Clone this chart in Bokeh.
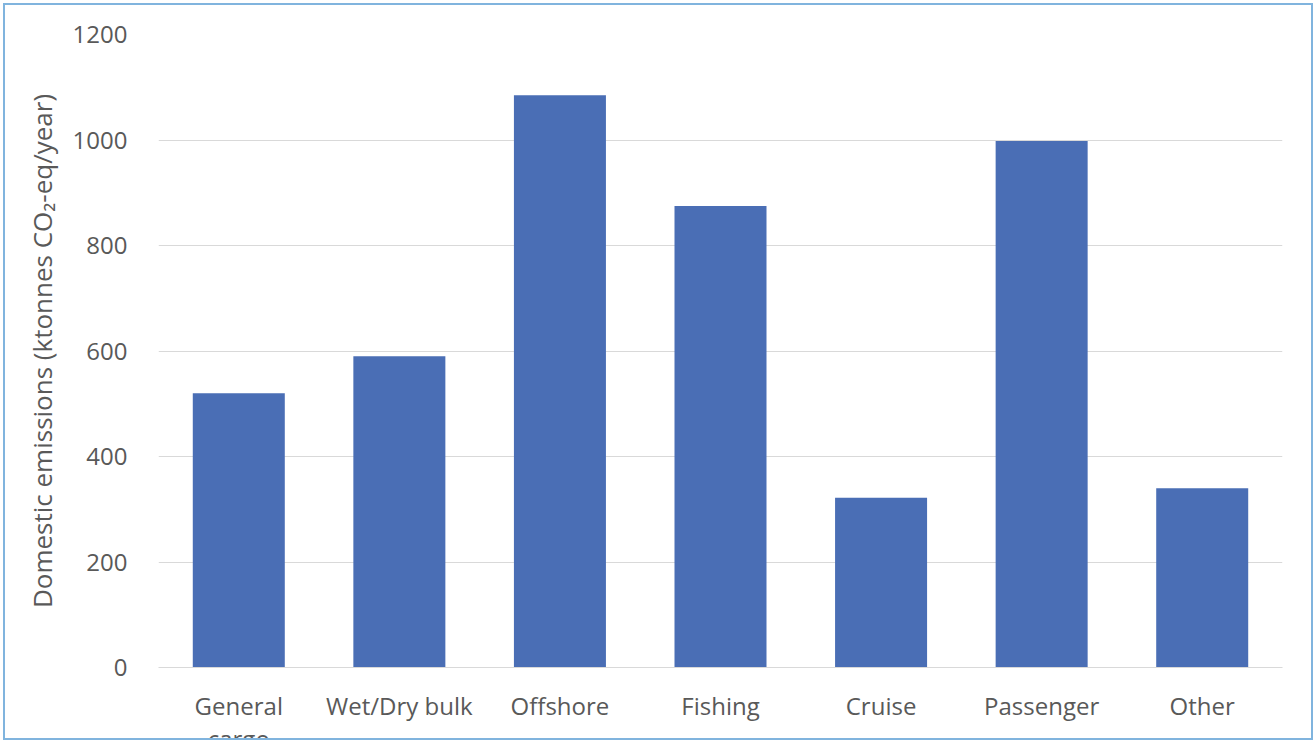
from bokeh.plotting import figure
from bokeh.layouts import column
from bokeh.models import FactorRange, Range1d, FixedTicker, ColumnDataSource, CustomJSTickFormatter
from bokeh.embed import file_html
from bokeh.resources import INLINE

categories = ["General cargo", "Wet/Dry bulk", "Offshore", "Fishing", "Cruise", "Passenger", "Other"]
emissions = [520, 590, 1085, 875, 322, 998, 340]
y_ticks = [0, 200, 400, 600, 800, 1000, 1200]

# the first category label wraps onto a second line in the reference
wrapped = {"General cargo": "General\ncargo"}

src = ColumnDataSource(dict(cat=categories, val=emissions))

p = figure(
    x_range=FactorRange(*categories),
    y_range=Range1d(0, 1200),
    width=1306, height=752,
    output_backend="svg", toolbar_location=None,
    min_border_left=153, min_border_right=29, min_border_top=29, min_border_bottom=71,
    styles={"flex-shrink": "0", "min-height": "752px", "min-width": "1306px"},
)
p.vbar(x="cat", top="val", width=0.573, source=src, color="#4A6EB5", line_color=None)

p.x_range.range_padding = 0
p.outline_line_color = None
p.background_fill_color = "white"
p.border_fill_color = "white"

p.yaxis.ticker = FixedTicker(ticks=y_ticks)
p.ygrid.grid_line_color = "#d9d9d9"
p.ygrid.grid_line_width = 1
p.xgrid.grid_line_color = None

for ax in (p.xaxis[0], p.yaxis[0]):
    ax.major_label_text_font = "Open Sans"
    ax.major_label_text_font_size = "24px"
    ax.major_label_text_color = "#595959"
    ax.major_tick_line_color = None
    ax.minor_tick_line_color = None

p.yaxis.axis_line_color = None
p.xaxis.axis_line_color = "#d9d9d9"
p.yaxis.major_label_standoff = 25
p.xaxis.major_label_standoff = 15
p.xaxis.major_label_text_line_height = 1.0
p.xaxis.formatter = CustomJSTickFormatter(args=dict(wrapped=wrapped),
                                          code="return (tick in wrapped) ? wrapped[tick] : tick;")

p.yaxis.axis_label = "Domestic emissions (ktonnes CO\u2082-eq/year)"
p.yaxis.axis_label_text_font = "Open Sans"
p.yaxis.axis_label_text_font_size = "26px"
p.yaxis.axis_label_text_font_style = "normal"
p.yaxis.axis_label_text_color = "#595959"
p.yaxis.axis_label_standoff = 10

page = column(p, styles={"border": "2px solid #80b4de", "margin": "3px", "overflow": "hidden",
                         "box-sizing": "border-box", "width": "1310px", "height": "737px"})

open("out.html", "w").write(file_html(page, INLINE))
